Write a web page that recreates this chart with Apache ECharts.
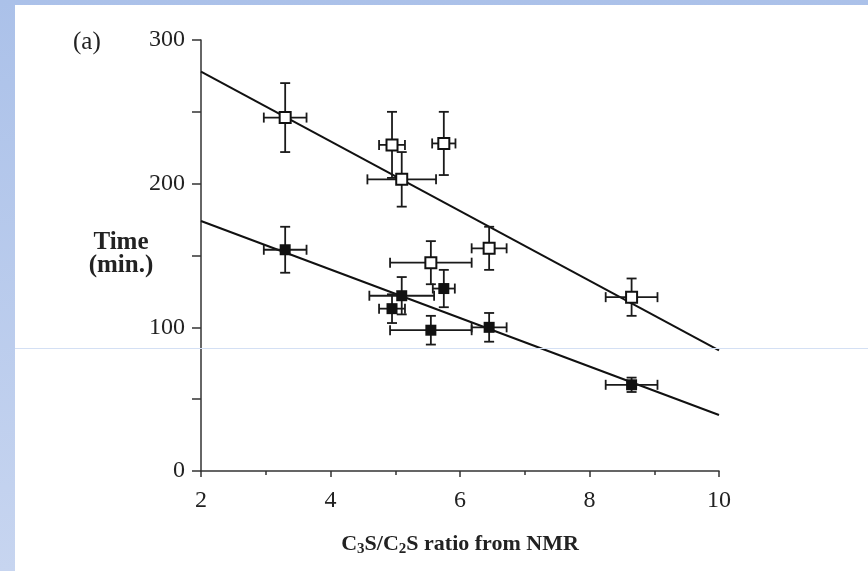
<!DOCTYPE html>
<html>
<head>
<meta charset="utf-8">
<script src="https://cdn.jsdelivr.net/npm/echarts@6/dist/echarts.min.js"></script>
<style>
html, body { margin: 0; padding: 0; }
body { width: 868px; height: 571px; background: linear-gradient(#abc1e9, #c7d5f0); position: relative; overflow: hidden; }
#page { position: absolute; left: 15px; top: 5px; right: 0; bottom: 0; background: #fff; }
#chart { position: absolute; left: -15px; top: -5px; width: 868px; height: 571px; }
#rule { position: absolute; left: 15px; right: 0; top: 348px; height: 1px; background: #d4e0f4; }
</style>
</head>
<body>
<div id="page"><div id="chart"></div></div>
<div id="rule"></div>
<script>
// x = C3S/C2S ratio, y = time (min), with error half-widths
const openX    = [3.3, 4.95, 5.75, 5.1, 5.55, 6.45, 8.65];
const openY    = [246, 227, 228, 203, 145, 155, 121];
const openXErr = [0.33, 0.2, 0.18, 0.53, 0.63, 0.27, 0.4];
const openYErr = [24, 23, 22, 19, 15, 15, 13];

const fillX    = [3.3, 4.95, 5.1, 5.75, 5.55, 6.45, 8.65];
const fillY    = [154, 113, 122, 127, 98, 100, 60];
const fillXErr = [0.33, 0.2, 0.5, 0.17, 0.63, 0.27, 0.4];
const fillYErr = [16, 10, 13, 13, 10, 10, 5];

// fitted lines, end points at x = 2 and x = 10
const fitX     = [2, 10];
const openFit  = [278, 84];
const fillFit  = [174, 39];

const xTicks = [2, 4, 6, 8, 10];
const yTicks = [0, 100, 200, 300];

const FONT = '"Liberation Serif", "DejaVu Serif", serif';

function errRows(xs, ys, xe, ye) {
  return xs.map((x, i) => [x, ys[i], xe[i], ye[i]]);
}

function errorBars(params, api) {
  const x = api.value(0), y = api.value(1);
  const dx = api.value(2), dy = api.value(3);
  const top = api.coord([x, y + dy]);
  const bot = api.coord([x, y - dy]);
  const lft = api.coord([x - dx, y]);
  const rgt = api.coord([x + dx, y]);
  const cap = 5;
  const st = { stroke: '#1a1a1a', lineWidth: 1.8 };
  const ln = (x1, y1, x2, y2) => ({ type: 'line', shape: { x1, y1, x2, y2 }, style: st });
  return {
    type: 'group',
    children: [
      ln(top[0], top[1], bot[0], bot[1]),
      ln(top[0] - cap, top[1], top[0] + cap, top[1]),
      ln(bot[0] - cap, bot[1], bot[0] + cap, bot[1]),
      ln(lft[0], lft[1], rgt[0], rgt[1]),
      ln(lft[0], lft[1] - cap, lft[0], lft[1] + cap),
      ln(rgt[0], rgt[1] - cap, rgt[0], rgt[1] + cap)
    ]
  };
}

const chart = echarts.init(document.getElementById('chart'), null, { renderer: 'canvas' });
chart.setOption({
  animation: false,
  backgroundColor: 'transparent',
  grid: { left: 201, top: 40, right: 149, bottom: 100 },
  xAxis: {
    type: 'value', min: xTicks[0], max: xTicks[xTicks.length - 1], interval: 2,
    splitLine: { show: false },
    axisLine: { lineStyle: { color: '#333', width: 1.5 } },
    axisTick: { show: true, length: 6, lineStyle: { color: '#333', width: 1.5 } },
    minorTick: { show: true, splitNumber: 2, length: 4, lineStyle: { color: '#333', width: 1.5 } },
    axisLabel: { color: '#222', fontFamily: FONT, fontSize: 24, margin: 18 },
    name: 'C{s|3}S/C{s|2}S ratio from NMR',
    nameLocation: 'middle', nameGap: 60,
    nameTextStyle: {
      color: '#222', fontFamily: FONT, fontSize: 22, fontWeight: 'bold',
      rich: { s: { fontFamily: FONT, fontSize: 15, fontWeight: 'bold', verticalAlign: 'bottom', padding: [11, 0, 0, 0] } }
    }
  },
  yAxis: {
    type: 'value', min: yTicks[0], max: yTicks[yTicks.length - 1], interval: 100,
    splitLine: { show: false },
    axisLine: { lineStyle: { color: '#333', width: 1.5 } },
    axisTick: { show: true, length: 9, lineStyle: { color: '#333', width: 1.5 } },
    minorTick: { show: true, splitNumber: 2, length: 9, lineStyle: { color: '#333', width: 1.5 } },
    axisLabel: { color: '#222', fontFamily: FONT, fontSize: 24, margin: 16 }
  },
  graphic: [
    { type: 'text', x: 73, y: 30, style: { text: '(a)', font: '25px ' + FONT, fill: '#222' } },
    { type: 'text', x: 121, y: 231, style: { text: 'Time\n(min.)', font: 'bold 25px ' + FONT, fill: '#222', align: 'center', lineHeight: 23 } }
  ],
  series: [
    {
      type: 'line', data: fitX.map((x, i) => [x, openFit[i]]), symbol: 'none',
      lineStyle: { color: '#111', width: 2 }, z: 2
    },
    {
      type: 'line', data: fitX.map((x, i) => [x, fillFit[i]]), symbol: 'none',
      lineStyle: { color: '#111', width: 2 }, z: 2
    },
    { type: 'custom', renderItem: errorBars, data: errRows(openX, openY, openXErr, openYErr), z: 3 },
    { type: 'custom', renderItem: errorBars, data: errRows(fillX, fillY, fillXErr, fillYErr), z: 3 },
    {
      type: 'scatter', data: openX.map((x, i) => [x, openY[i]]), symbol: 'rect', symbolSize: 11,
      itemStyle: { color: '#fff', borderColor: '#111', borderWidth: 2, opacity: 1 }, z: 4
    },
    {
      type: 'scatter', data: fillX.map((x, i) => [x, fillY[i]]), symbol: 'rect', symbolSize: 11,
      itemStyle: { color: '#111', opacity: 1 }, z: 4
    }
  ]
});
</script>
</body>
</html>
